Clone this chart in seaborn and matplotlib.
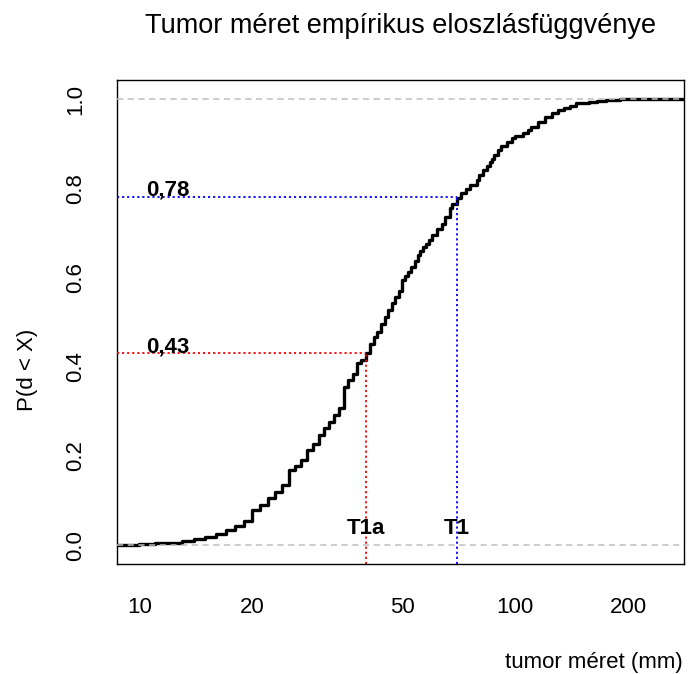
import matplotlib
matplotlib.use("Agg")
import matplotlib.pyplot as plt
import seaborn as sns
import pandas as pd

# --- data (tumour size knots in mm, cumulative probability) ---
meret = [10, 11, 12, 13, 14, 15, 16, 17, 18, 19, 20, 21, 22, 23, 24, 25, 26, 27, 28, 29,
         30, 31, 32, 33, 34, 35, 36, 37, 38, 39, 40, 41, 42, 43, 44, 45, 46, 47, 48, 49,
         50, 51, 52, 53, 54, 55, 56, 57, 58, 59, 60, 62, 64, 65, 67, 68, 70, 72, 74, 76,
         79, 80, 82, 84, 86, 87, 88, 90, 92, 95, 98, 100, 105, 108, 110, 115, 120, 125,
         130, 135, 140, 145, 150, 157, 165, 175, 190, 210]
kumulalt = [0.002, 0.004, 0.006, 0.010, 0.013, 0.019, 0.025, 0.034, 0.044, 0.055,
            0.079, 0.090, 0.106, 0.120, 0.135, 0.169, 0.178, 0.190, 0.214, 0.228,
            0.247, 0.262, 0.277, 0.292, 0.307, 0.355, 0.370, 0.384, 0.408, 0.416,
            0.430, 0.452, 0.467, 0.478, 0.495, 0.512, 0.528, 0.542, 0.556, 0.570,
            0.594, 0.603, 0.613, 0.624, 0.637, 0.650, 0.660, 0.668, 0.676, 0.685,
            0.695, 0.708, 0.720, 0.735, 0.755, 0.765, 0.778, 0.790, 0.798, 0.807,
            0.818, 0.830, 0.842, 0.850, 0.858, 0.865, 0.875, 0.886, 0.895, 0.904,
            0.912, 0.918, 0.923, 0.930, 0.938, 0.948, 0.960, 0.968, 0.975, 0.980,
            0.985, 0.990, 0.992, 0.994, 0.996, 0.998, 0.999, 1.000]

hatar_nev = ["T1a", "T1"]
hatar_x = [40, 70]
hatar_p = [0.43, 0.78]
hatar_cimke = ["0,43", "0,78"]
hatar_szin = ["red", "blue"]

x_ticks = [10, 20, 50, 100, 200]
y_ticks = [0.0, 0.2, 0.4, 0.6, 0.8, 1.0]

sns.set_theme(style="white")
plt.rcParams["font.family"] = ["Liberation Sans", "DejaVu Sans"]
plt.rcParams["text.color"] = "black"
plt.rcParams["axes.labelcolor"] = "black"
plt.rcParams["xtick.color"] = "black"
plt.rcParams["ytick.color"] = "black"

fig = plt.figure(figsize=(6.89, 6.74), dpi=100)
ax = fig.add_axes([117.3 / 689, (674 - 564) / 674, (684.3 - 117.3) / 689, (564 - 80) / 674])
ax.set_xscale("log")
xlim = (8.74, 282)
ax.set_xlim(*xlim)
ax.set_ylim(-0.042, 1.0426)

xs = [xlim[0]] + meret + [xlim[1]]
ys = [0.0] + kumulalt + [kumulalt[-1]]
df = pd.DataFrame({"meret": xs, "p": ys})
sns.lineplot(data=df, x="meret", y="p", drawstyle="steps-post", estimator=None,
             color="black", lw=2.4, ax=ax, sort=False)

# reference lines
for yv in [0.0, 1.0]:
    ax.axhline(yv, color="#bebebe", lw=1.1, linestyle=(0, (4, 3)), zorder=3)

for nev, xv, pv, cimke, szin in zip(hatar_nev, hatar_x, hatar_p, hatar_cimke, hatar_szin):
    ax.plot([xlim[0], xv], [pv, pv], color=szin, lw=1.3, linestyle=(0, (1.2, 1.6)), zorder=4)
    ax.plot([xv, xv], [-0.042, pv], color=szin, lw=1.3, linestyle=(0, (1.2, 1.6)), zorder=4)
    ax.text(xv, 0.025, nev, ha="center", va="baseline", fontsize=16, fontweight="bold",
            color="black", zorder=5)
    ax.text(10.4, pv + 0.003, cimke, ha="left", va="baseline", fontsize=16, fontweight="bold",
            color="black", zorder=5)

ax.set_xticks(x_ticks)
ax.set_xticklabels([str(t) for t in x_ticks])
ax.xaxis.set_minor_locator(matplotlib.ticker.NullLocator())
ax.set_yticks(y_ticks)
ax.set_yticklabels([f"{t:.1f}" for t in y_ticks], rotation=90, va="center")
ax.tick_params(axis="both", which="major", length=9.1, width=1.0, color="black",
               labelsize=16, labelcolor="black", direction="out")
ax.tick_params(axis="x", pad=15)
ax.tick_params(axis="y", pad=13)
ax.set_xlabel("")
ax.set_ylabel("")
for s in ax.spines.values():
    s.set_visible(True)
    s.set_color("black")
    s.set_linewidth(1.0)

fig.text(401 / 689, 1 - 33 / 674, "Tumor méret empírikus eloszlásfüggvénye",
         ha="center", va="baseline", fontsize=19.5, color="black")
fig.text(683 / 689, 1 - 668 / 674, "tumor méret (mm)", ha="right", va="baseline",
         fontsize=16, color="black")
fig.text(28 / 689, 1 - 370 / 674, "P(d < X)", ha="center", va="center", rotation=90,
         fontsize=16, color="black")

fig.savefig("out.png", dpi=100)
